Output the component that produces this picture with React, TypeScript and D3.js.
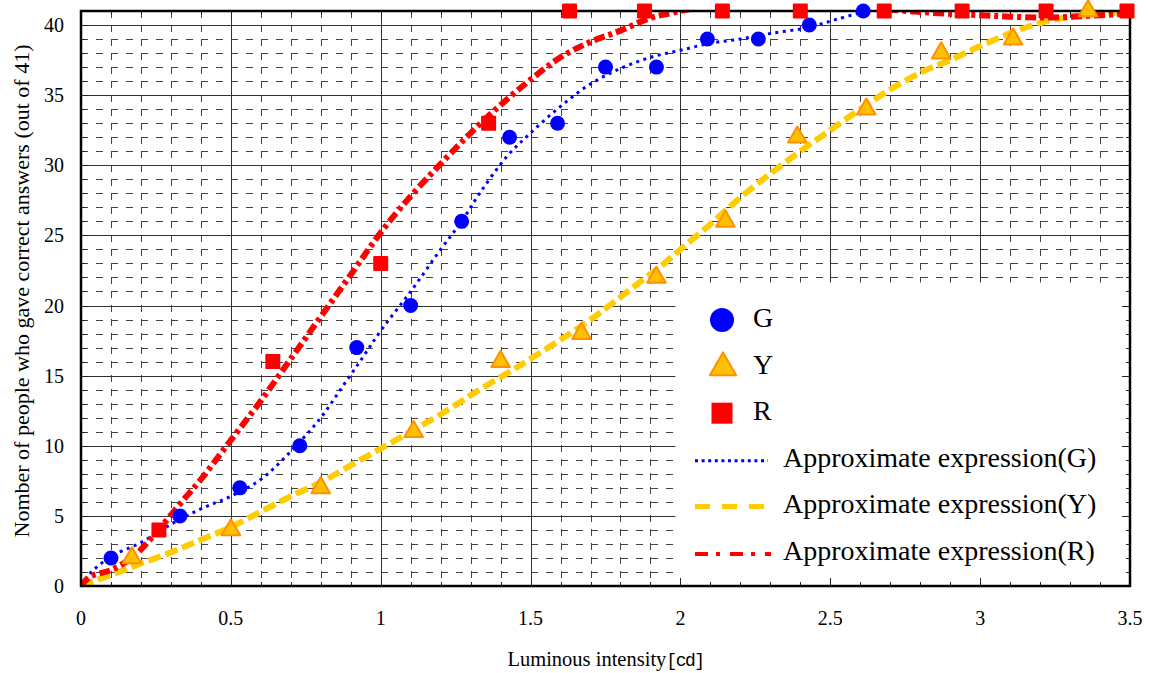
import * as d3 from "d3";

// Layout of the 1150x673 picture
const W = 1150;
const H = 673;
const PLOT = { left: 81, right: 1130, top: 11, bottom: 586 };
const SERIF = "'Liberation Serif','Times New Roman',serif";
const MONO = "'Liberation Mono','DejaVu Sans Mono',monospace";

// Axes
const X_DOMAIN = [0, 3.5];
const Y_DOMAIN = [0, 41];
const X_TICKS = [0, 0.5, 1, 1.5, 2, 2.5, 3, 3.5];
const X_TICK_LABELS = ["0", "0.5", "1", "1.5", "2", "2.5", "3", "3.5"];
const Y_TICKS = [0, 5, 10, 15, 20, 25, 30, 35, 40];

// Measured points
const G_X = [0.1, 0.33, 0.53, 0.73, 0.92, 1.1, 1.27, 1.43, 1.59, 1.75, 1.92, 2.09, 2.26, 2.43, 2.61];
const G_Y = [2, 5, 7, 10, 17, 20, 26, 32, 33, 37, 37, 39, 39, 40, 41];

const Y_X = [0.17, 0.5, 0.8, 1.11, 1.4, 1.67, 1.92, 2.15, 2.39, 2.62, 2.87, 3.11, 3.36];
const Y_Y = [2, 4, 7, 11, 16, 18, 22, 26, 32, 34, 38, 39, 41];

const R_X = [0.26, 0.64, 1.0, 1.36, 1.63, 1.88, 2.14, 2.4, 2.68, 2.94, 3.22, 3.49];
const R_Y = [4, 16, 23, 33, 41, 41, 41, 41, 41, 41, 41, 41];

// Approximate expressions
const FIT_G_X = [0, 0.03, 0.1, 0.2, 0.3, 0.4, 0.5, 0.6, 0.7, 0.8, 0.875, 0.94, 1.0, 1.1, 1.2, 1.27, 1.33, 1.42, 1.5, 1.6, 1.7, 1.8, 1.9, 2.0, 2.1, 2.2, 2.3, 2.42, 2.52, 2.62];
const FIT_G_Y = [0, 0.9, 2.1, 3.1, 4.4, 5.5, 6.4, 7.6, 9.6, 12.0, 14.3, 16.3, 18.2, 21.0, 24.0, 26.0, 28.0, 30.6, 32.3, 34.2, 35.8, 36.9, 37.7, 38.2, 38.7, 39.0, 39.4, 39.8, 40.4, 41.0];

const FIT_Y_X = [0, 0.1, 0.2, 0.3, 0.4, 0.5, 0.6, 0.7, 0.8, 0.9, 1.0, 1.1, 1.22, 1.33, 1.44, 1.5, 1.61, 1.72, 1.83, 1.94, 2.0, 2.1, 2.2, 2.3, 2.4, 2.5, 2.6, 2.7, 2.81, 2.9, 3.0, 3.11, 3.21, 3.34, 3.49];
const FIT_Y_Y = [0, 0.8, 1.6, 2.4, 3.3, 4.2, 5.3, 6.4, 7.4, 8.6, 9.8, 11.0, 12.5, 14.0, 15.4, 16.2, 17.7, 19.3, 21.1, 22.9, 24.0, 25.8, 27.7, 29.4, 31.0, 32.5, 34.0, 35.4, 36.7, 37.5, 38.5, 39.5, 40.2, 40.7, 40.9];

const FIT_R_X = [0, 0.03, 0.1, 0.175, 0.23, 0.286, 0.34, 0.4, 0.5, 0.6, 0.7, 0.8, 0.9, 1.0, 1.1, 1.2, 1.3, 1.4, 1.5, 1.6, 1.7, 1.8, 1.9, 1.98, 2.1, 2.3, 2.5, 2.73, 2.84, 3.0, 3.12, 3.23, 3.34, 3.49];
const FIT_R_Y = [0, 0.66, 1.14, 2.1, 3.3, 4.7, 6.1, 7.6, 10.4, 13.2, 16.2, 19.2, 22.2, 25.2, 27.8, 30.1, 32.3, 34.3, 36.1, 37.7, 38.8, 39.6, 40.5, 40.9, 41.4, 41.6, 41.5, 41.05, 40.87, 40.7, 40.58, 40.53, 40.63, 40.8];

const LEGEND_MARKERS = ["G", "Y", "R"];
const LEGEND_LINES = ["Approximate expression(G)", "Approximate expression(Y)", "Approximate expression(R)"];

const BLUE = "#0000ff";
const RED = "#ff0000";
const GOLD = "#ffcc00";
const TRI_FILL = "#ffc000";
const TRI_STROKE = "#ff9000";

const zip = (xs: number[], ys: number[]) => xs.map((x, i) => [x, ys[i]] as [number, number]);
const px = (v: number) => Math.round(v) + 0.5;

export default function App() {
  const x = d3.scaleLinear().domain(X_DOMAIN).range([PLOT.left, PLOT.right]);
  const y = d3.scaleLinear().domain(Y_DOMAIN).range([PLOT.bottom, PLOT.top]);

  const minorX = x.ticks(35).filter((t) => Math.abs(t * 2 - Math.round(t * 2)) > 1e-6);
  const minorY = y.ticks(41).filter((t) => t % 5 !== 0 && t < 41);
  const allX = x.ticks(35);
  const allY = y.ticks(41).filter((t) => t < 41);

  const line = d3
    .line<[number, number]>()
    .x((d) => x(d[0]))
    .y((d) => y(d[1]))
    .curve(d3.curveCatmullRom.alpha(0.5));

  const tri = d3.symbol().type(d3.symbolTriangle).size(150)();
  const triBig = d3.symbol().type(d3.symbolTriangle).size(300)();

  const legL = x(2) - 5;
  const legT = y(22) + 5;
  const rowBase = (i: number) => 327 + i * 46.6;

  return (
    <svg width={W} height={H} style={{ position: "absolute", left: 0, top: 0, background: "white" }}>
      <defs>
        <clipPath id="plot-clip">
          <rect x={PLOT.left} y={PLOT.top} width={PLOT.right - PLOT.left} height={PLOT.bottom - PLOT.top} />
        </clipPath>
      </defs>

      {/* minor grid */}
      <g shapeRendering="crispEdges">
        {minorX.map((t) => (
          <line key={`mx${t}`} x1={px(x(t))} x2={px(x(t))} y1={PLOT.top} y2={PLOT.bottom}
            stroke="#444" strokeWidth={1} strokeDasharray="7,7" />
        ))}
        {minorY.map((t) => (
          <line key={`my${t}`} x1={PLOT.left} x2={PLOT.right} y1={px(y(t))} y2={px(y(t))}
            stroke="#444" strokeWidth={1} strokeDasharray="7,8" />
        ))}
        {/* major grid */}
        {X_TICKS.map((t) => (
          <line key={`gx${t}`} x1={px(x(t))} x2={px(x(t))} y1={PLOT.top} y2={PLOT.bottom} stroke="#333" strokeWidth={1} />
        ))}
        {Y_TICKS.map((t) => (
          <line key={`gy${t}`} x1={PLOT.left} x2={PLOT.right} y1={px(y(t))} y2={px(y(t))} stroke="#333" strokeWidth={1} />
        ))}
      </g>

      {/* legend background */}
      <rect x={legL} y={legT} width={PLOT.right - legL} height={PLOT.bottom - legT} fill="white" />

      {/* inner ticks on the frame */}
      <g shapeRendering="crispEdges">
        {allX.map((t) => {
          const len = X_TICKS.includes(t) ? 8 : 4;
          return (
            <g key={`tx${t}`}>
              <line x1={px(x(t))} x2={px(x(t))} y1={PLOT.bottom} y2={PLOT.bottom - len} stroke="#222" />
              <line x1={px(x(t))} x2={px(x(t))} y1={PLOT.top} y2={PLOT.top + len} stroke="#222" />
            </g>
          );
        })}
        {allY.map((t) => {
          const len = t % 5 === 0 ? 8 : 4;
          return (
            <g key={`ty${t}`}>
              <line x1={PLOT.left} x2={PLOT.left + len} y1={px(y(t))} y2={px(y(t))} stroke="#222" />
              <line x1={PLOT.right} x2={PLOT.right - len} y1={px(y(t))} y2={px(y(t))} stroke="#222" />
            </g>
          );
        })}
      </g>

      {/* fitted curves */}
      <g clipPath="url(#plot-clip)" fill="none">
        <path d={line(zip(FIT_Y_X, FIT_Y_Y)) ?? ""} stroke={GOLD} strokeWidth={6} strokeDasharray="13,5" />
        <path d={line(zip(FIT_G_X, FIT_G_Y)) ?? ""} stroke={BLUE} strokeWidth={3} strokeDasharray="3,4.5" />
        <path d={line(zip(FIT_R_X, FIT_R_Y)) ?? ""} stroke={RED} strokeWidth={6} strokeDasharray="11,4,4,4" />
      </g>

      {/* frame */}
      <rect x={PLOT.left} y={PLOT.top} width={PLOT.right - PLOT.left} height={PLOT.bottom - PLOT.top}
        fill="none" stroke="#000" strokeWidth={2.5} />

      {/* markers */}
      {zip(G_X, G_Y).map(([a, b], i) => (
        <circle key={`g${i}`} cx={x(a)} cy={y(b)} r={7.5} fill={BLUE} />
      ))}
      {zip(Y_X, Y_Y).map(([a, b], i) => (
        <path key={`y${i}`} d={tri ?? ""} transform={`translate(${x(a)},${y(b)})`}
          fill={TRI_FILL} stroke={TRI_STROKE} strokeWidth={2} strokeLinejoin="round" />
      ))}
      {zip(R_X, R_Y).map(([a, b], i) => (
        <rect key={`r${i}`} x={x(a) - 7.5} y={y(b) - 7.5} width={15} height={15} fill={RED} rx={1} />
      ))}

      {/* y tick labels */}
      {Y_TICKS.map((t) => (
        <text key={`yl${t}`} x={64} y={y(t)} dy="0.35em" textAnchor="end"
          fontFamily={SERIF} fontSize={20} fill="#000">{t}</text>
      ))}
      {/* x tick labels */}
      {X_TICKS.map((t, i) => (
        <text key={`xl${t}`} x={x(t)} y={PLOT.bottom + 39} textAnchor="middle"
          fontFamily={SERIF} fontSize={20} fill="#000">{X_TICK_LABELS[i]}</text>
      ))}

      {/* axis titles */}
      <text x={(PLOT.left + PLOT.right) / 2} y={666} textAnchor="middle" fontFamily={SERIF} fontSize={20.5} fill="#000">
        Luminous intensity<tspan fontFamily={MONO} fontSize={18} letterSpacing={-1.5}>[cd]</tspan>
      </text>
      <text transform={`translate(29,291) rotate(-90)`} textAnchor="middle" fontFamily={SERIF} fontSize={22} fill="#000">
        Nomber of people who gave correct answers (out of 41)
      </text>

      {/* legend */}
      <g fontFamily={SERIF} fontSize={28} fill="#000">
        <circle cx={722} cy={rowBase(0) - 7} r={12} fill={BLUE} />
        <path d={triBig ?? ""} transform={`translate(723,${rowBase(1) - 6})`}
          fill={TRI_FILL} stroke={TRI_STROKE} strokeWidth={2} strokeLinejoin="round" />
        <rect x={711.5} y={rowBase(2) - 7 - 10.5} width={21} height={21} fill={RED} />
        {LEGEND_MARKERS.map((lab, i) => (
          <text key={lab} x={753} y={rowBase(i)}>{lab}</text>
        ))}
        <line x1={695} x2={768} y1={rowBase(3) - 6} y2={rowBase(3) - 6} stroke={BLUE} strokeWidth={3} strokeDasharray="3,3.6" />
        <line x1={695} x2={768} y1={rowBase(4) - 7} y2={rowBase(4) - 7} stroke={GOLD} strokeWidth={5} strokeDasharray="15,12" />
        <line x1={695} x2={771} y1={rowBase(5) - 6} y2={rowBase(5) - 6} stroke={RED} strokeWidth={4} strokeDasharray="13,8,4,10" />
        {LEGEND_LINES.map((lab, i) => (
          <text key={lab} x={783} y={rowBase(i + 3)}>{lab}</text>
        ))}
      </g>
    </svg>
  );
}
